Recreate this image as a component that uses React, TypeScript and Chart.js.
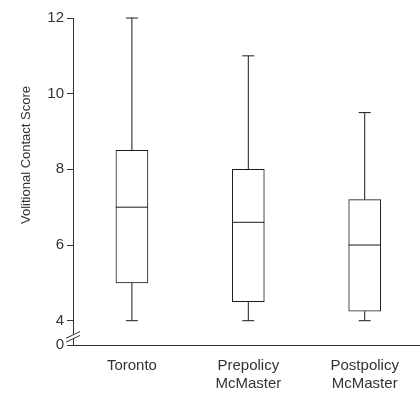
import React, { useEffect, useRef } from "react";
import { Chart, registerables } from "chart.js";

Chart.register(...registerables);

const categories: (string | string[])[] = ["Toronto", ["Prepolicy", "McMaster"], ["Postpolicy", "McMaster"]];
const mins = [4, 4, 4];
const q1s = [5, 4.5, 4.25];
const medians = [7, 6.6, 6];
const q3s = [8.5, 8, 7.2];
const maxs = [12, 11, 9.5];
const yTickValues = [4, 6, 8, 10, 12];
const yTitle = "Volitional Contact Score";

const AXIS_FLOOR = 3.358; // where the broken axis shows "0"
const FONT = "'Liberation Sans', Arial, Helvetica, sans-serif";
const INK = "#1a1a1a";
const AXIS = "#333333";

export default function App() {
  const ref = useRef<HTMLCanvasElement | null>(null);

  useEffect(() => {
    if (!ref.current) return;

    const boxPlugin = {
      id: "boxExtras",
      afterDatasetsDraw(chart: any) {
        const { ctx, scales } = chart;
        const xs = scales.x;
        const ys = scales.y;
        ctx.save();
        ctx.strokeStyle = INK;
        ctx.lineWidth = 1;
        const boxW = 32;
        const capW = 12;
        for (let i = 0; i < categories.length; i++) {
          const cx = xs.getPixelForValue(i);
          const pMin = ys.getPixelForValue(mins[i]);
          const pQ1 = ys.getPixelForValue(q1s[i]);
          const pMed = ys.getPixelForValue(medians[i]);
          const pQ3 = ys.getPixelForValue(q3s[i]);
          const pMax = ys.getPixelForValue(maxs[i]);
          ctx.beginPath();
          ctx.moveTo(cx, pQ3);
          ctx.lineTo(cx, pMax);
          ctx.moveTo(cx, pQ1);
          ctx.lineTo(cx, pMin);
          ctx.moveTo(cx - capW / 2, pMax);
          ctx.lineTo(cx + capW / 2, pMax);
          ctx.moveTo(cx - capW / 2, pMin);
          ctx.lineTo(cx + capW / 2, pMin);
          ctx.moveTo(cx - boxW / 2, pMed);
          ctx.lineTo(cx + boxW / 2, pMed);
          ctx.stroke();
        }
        ctx.restore();
      },
      afterDraw(chart: any) {
        const { ctx, chartArea, scales } = chart;
        const ys = scales.y;
        ctx.save();
        // axis break marks
        const ax = chartArea.left;
        const yc = (ys.getPixelForValue(4) + chartArea.bottom) / 2 + 4;
        const dx = 7;
        const dy = 3.3;
        const gap = 1.9;
        ctx.fillStyle = "#ffffff";
        ctx.beginPath();
        ctx.moveTo(ax - dx, yc - gap + dy);
        ctx.lineTo(ax + dx, yc - gap - dy);
        ctx.lineTo(ax + dx, yc + gap - dy);
        ctx.lineTo(ax - dx, yc + gap + dy);
        ctx.closePath();
        ctx.fill();
        ctx.strokeStyle = AXIS;
        ctx.lineWidth = 1;
        ctx.beginPath();
        ctx.moveTo(ax - dx, yc - gap + dy);
        ctx.lineTo(ax + dx, yc - gap - dy);
        ctx.moveTo(ax - dx, yc + gap + dy);
        ctx.lineTo(ax + dx, yc + gap - dy);
        ctx.stroke();
        // y title
        ctx.fillStyle = AXIS;
        ctx.font = `13px ${FONT}`;
        ctx.textAlign = "center";
        ctx.textBaseline = "middle";
        ctx.translate(26, 155);
        ctx.rotate(-Math.PI / 2);
        ctx.fillText(yTitle, 0, 0);
        ctx.restore();
      },
    };

    const chart = new Chart(ref.current, {
      type: "bar",
      data: {
        datasets: [
          {
            data: categories.map((_, i) => ({ x: i, y: [q1s[i], q3s[i]] })) as any,
            backgroundColor: "#ffffff",
            borderColor: INK,
            borderWidth: 1,
            borderSkipped: false,
            barThickness: 32,
          },
        ],
      },
      options: {
        responsive: false,
        animation: false,
        devicePixelRatio: 1,
        layout: { padding: { top: 18, right: 0, bottom: 0, left: 0 } },
        plugins: { legend: { display: false }, tooltip: { enabled: false } },
        scales: {
          x: {
            type: "linear",
            offset: false,
            min: -0.506,
            max: 2.475,
            afterBuildTicks: (s: any) => {
              s.ticks = categories.map((_, i) => ({ value: i }));
            },
            afterFit: (s: any) => {
              s.height = 49;
            },
            ticks: {
              callback: (v: any) => categories[Math.round(v)] as any,
              font: { family: FONT, size: 15 },
              color: AXIS,
              padding: 12,
              maxRotation: 0,
              autoSkip: false,
            },
            grid: { display: true, drawOnChartArea: false, drawTicks: false },
            border: { display: true, color: AXIS, width: 1 },
          },
          y: {
            type: "linear",
            min: AXIS_FLOOR,
            max: 12,
            afterBuildTicks: (s: any) => {
              s.ticks = [{ value: AXIS_FLOOR }, ...yTickValues.map((v) => ({ value: v }))];
            },
            afterFit: (s: any) => {
              s.width = 73;
            },
            ticks: {
              callback: (v: any) => (Math.abs(v - AXIS_FLOOR) < 1e-6 ? "0" : String(v)),
              font: { family: FONT, size: 15 },
              color: AXIS,
              padding: 3,
            },
            grid: { display: true, drawOnChartArea: false, tickLength: 6, color: AXIS },
            border: { display: true, color: AXIS, width: 1 },
          },
        },
      },
      plugins: [boxPlugin],
    });

    return () => chart.destroy();
  }, []);

  return (
    <div style={{ position: "absolute", left: 0, top: 0, width: 420, height: 394, background: "#fff" }}>
      <canvas ref={ref} width={420} height={394} />
    </div>
  );
}
